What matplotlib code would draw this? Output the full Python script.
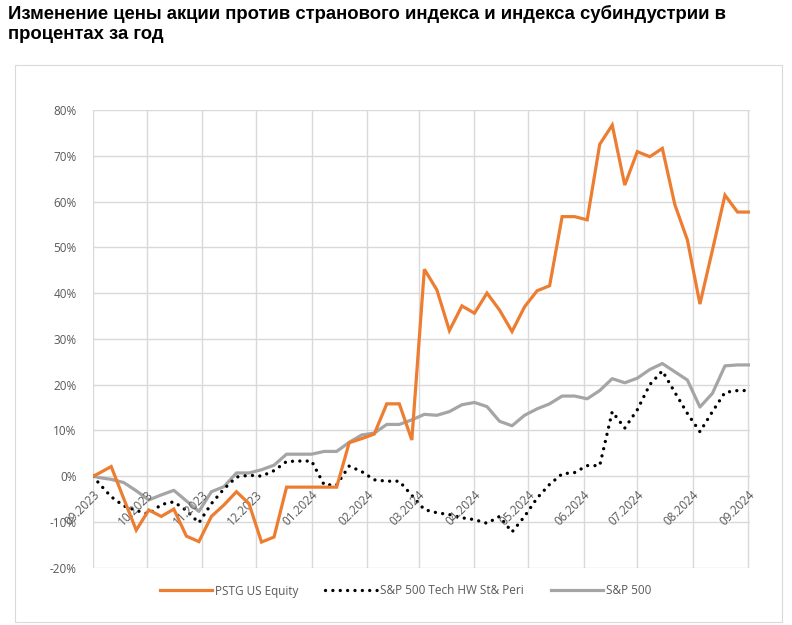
import matplotlib
matplotlib.use("Agg")
import matplotlib.pyplot as plt
import matplotlib.patches as patches
import pandas as pd

# weekly closes (Fridays) after the base date, change in % vs base
start = "2023-09-26"
fridays = pd.date_range("2023-09-29", "2024-09-27", freq="7D")
dates = [pd.Timestamp(start)] + list(fridays)

pstg = [0, 0.6, 2.1, -4.9, -11.8, -7.4, -8.8, -7.2, -13.1, -14.3, -8.8,
        -6.3, -3.4, -6.0, -14.4, -13.3, -2.4, -2.4, -2.4, -2.4, -2.4,
        7.3, 8.2, 9.2, 15.8, 15.8, 7.9, 45.2, 40.7, 31.8, 37.2, 35.6,
        40.0, 36.3, 31.6, 37.0, 40.5, 41.6, 56.7, 56.7, 56.0, 72.5, 76.7,
        63.6, 70.9, 69.8, 71.6, 59.3, 51.6, 37.6, 49.4, 61.4, 57.7, 57.7]
tech_hw = [0, -1.5, -4.5, -6.5, -7.5, -8.3, -6.2, -5.6, -7.5, -10.2, -6.0,
           -2.8, -0.2, 0.2, 0.0, 1.2, 3.2, 3.3, 3.3, -1.9, -1.9,
           2.2, 1.0, -0.8, -1.1, -1.1, -4.2, -7.3, -8.0, -8.4, -9.1, -9.5,
           -10.3, -8.8, -12.2, -8.8, -4.8, -1.8, 0.5, 0.8, 2.3, 2.3, 14.1,
           10.5, 14.5, 20.0, 23.0, 18.3, 13.7, 9.7, 14.1, 18.3, 18.7, 18.7]
spx = [0, -0.3, -0.7, -1.4, -3.2, -5.2, -4.1, -3.1, -5.4, -7.7, -3.4,
       -2.3, 0.7, 0.7, 1.4, 2.4, 4.8, 4.8, 4.8, 5.4, 5.4,
       7.4, 9.0, 9.4, 11.3, 11.3, 12.3, 13.5, 13.3, 14.1, 15.6, 16.1,
       15.2, 12.0, 11.0, 13.3, 14.7, 15.8, 17.5, 17.5, 16.9, 18.7, 21.3,
       20.4, 21.4, 23.3, 24.6, 22.8, 21.0, 15.1, 18.1, 24.1, 24.3, 24.3]

month_ticks = pd.date_range(start, "2024-09-26", freq=pd.DateOffset(months=1))
month_labels = ["09.2023", "10.2023", "11.2023", "12.2023", "01.2024", "02.2024",
                "03.2024", "04.2024", "05.2024", "06.2024", "07.2024",
                "08.2024", "09.2024"]
y_ticks = list(range(-20, 81, 10))

text_grey = "#595959"
grid_grey = "#d9d9d9"

fig = plt.figure(figsize=(7.92, 6.25), dpi=100)
ax = fig.add_axes([0.1178, 0.0917, 0.8292, 0.7323])

# chart frame
fig.patches.append(patches.Rectangle((15 / 792, 0.005), 767 / 792, 1 - 65 / 625 - 0.005,
                                     transform=fig.transFigure, fill=False,
                                     edgecolor="#d9d9d9", linewidth=0.8))

ax.plot(dates, pstg, color="#ED7D31", lw=2.3, label="PSTG US Equity",
        solid_joinstyle="miter", zorder=4)
ax.plot(dates, tech_hw, color="black", lw=2.4, linestyle=(0, (0.01, 2.2)),
        dash_capstyle="round", label="S&P 500 Tech HW St& Peri", zorder=3)
ax.plot(dates, spx, color="#A5A5A5", lw=2.3, label="S&P 500", zorder=2)

ax.set_xlim(dates[0], dates[-1])
ax.set_ylim(-20, 80)
ax.set_yticks(y_ticks)
ax.set_yticklabels([f"{v}%" for v in y_ticks], color=text_grey,
                   fontsize=8.5, family="Open Sans")
ax.set_xticks(month_ticks)
ax.set_xticklabels([])
ax.tick_params(length=0, pad=12)
ax.grid(True, color=grid_grey, lw=1.0)
ax.set_axisbelow(True)
for s in ax.spines.values():
    s.set_visible(False)

# category labels sit at the 0% crossing, like Excel does
for d, lab in zip(month_ticks, month_labels):
    ax.annotate(lab, (d, 0), xytext=(3, -12), textcoords="offset points",
                rotation=45, ha="right", va="center", rotation_mode="anchor",
                color=text_grey, fontsize=8.5, family="Open Sans",
                annotation_clip=False)

fig.text(8 / 792, 1 - 5 / 625,
         "Изменение цены акции против странового индекса и индекса субиндустрии в\nпроцентах за год",
         ha="left", va="top", fontsize=13.3, fontweight="bold",
         family="Liberation Sans", linespacing=1.2)

fig.legend(loc="center", bbox_to_anchor=(0.512, 1 - 591 / 625), ncol=3,
           frameon=False, handlelength=4.4, columnspacing=2.3,
           handletextpad=0.25, prop={"family": "Open Sans", "size": 8.5},
           labelcolor=text_grey)

fig.savefig("out.png", dpi=100)
